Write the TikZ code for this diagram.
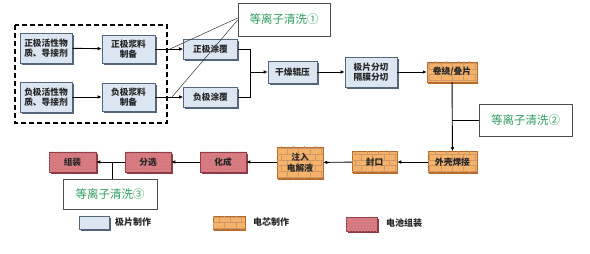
\documentclass[tikz,border=0pt]{standalone}
\usepackage{fontspec}
\newfontfamily\cjk{Noto Sans CJK SC}
\usetikzlibrary{arrows.meta,shadows,patterns,calc}
\definecolor{bluefill}{HTML}{DCE6F2}
\definecolor{blueline}{HTML}{55657A}
\definecolor{orfill}{HTML}{F4B26A}
\definecolor{orline}{HTML}{B86A28}
\definecolor{pkfill}{HTML}{DE7C82}
\definecolor{pkline}{HTML}{8E3A46}
\definecolor{plgreen}{HTML}{2E9E5E}
\tikzset{
  x=1pt,y=-1pt,
  every node/.style={font=\cjk\bfseries\fontsize{8.7}{10.5}\selectfont, inner sep=0pt, align=center, text=black!85},
  bluebox/.style={rectangle, draw=blueline, line width=0.6pt, fill=bluefill,
    drop shadow={shadow xshift=1.6pt, shadow yshift=-1.6pt, fill=blueline, opacity=1}},
  orbox/.style={rectangle, draw=orline, line width=0.5pt, fill=orfill,
    postaction={pattern=bricks, pattern color=orline!70},
    drop shadow={shadow xshift=1.2pt, shadow yshift=-1.6pt, fill=orline, opacity=1}},
  pkbox/.style={rectangle, draw=pkline, line width=0.5pt, fill=pkfill,
    postaction={pattern=crosshatch dots, pattern color=pkline!70},
    drop shadow={shadow xshift=1.6pt, shadow yshift=-1.6pt, fill=pkline, opacity=1}},
  plasma/.style={rectangle, draw=black!70, line width=0.6pt, fill=white,
    font=\cjk\fontsize{11.5}{13}\selectfont, text=plgreen},
  flow/.style={line width=0.9pt, -{Latex[length=4pt,width=3.6pt]}},
  link/.style={line width=0.9pt},
  callout/.style={line width=0.5pt, draw=black!80},
  legtext/.style={font=\cjk\bfseries\fontsize{9}{11}\selectfont, anchor=west}
}
\begin{document}
\begin{tikzpicture}
\useasboundingbox (0,0) rectangle (590,254);
% dashed group
\draw[dashed, line width=1.1pt, dash pattern=on 5pt off 3pt] (15,25) rectangle (167,123);
% upper chain
\node[bluebox, minimum width=52pt, minimum height=30pt] (pa) at (46,48) {正极活性物\\质、导接剂};
\node[bluebox, minimum width=53pt, minimum height=28pt] (pb) at (128.5,49) {正极浆料\\制备};
\node[bluebox, minimum width=52pt, minimum height=30pt] (na) at (46,97) {负极活性物\\质、导接剂};
\node[bluebox, minimum width=53pt, minimum height=28pt] (nb) at (128.5,97) {负极浆料\\制备};
\node[bluebox, minimum width=54pt, minimum height=20pt] (pc) at (210.5,49) {正极涂覆};
\node[bluebox, minimum width=54pt, minimum height=20pt] (nc) at (210.5,97) {负极涂覆};
\node[bluebox, minimum width=49pt, minimum height=22pt] (dry) at (292.5,72) {干燥辊压};
\node[bluebox, minimum width=52pt, minimum height=30pt] (cut) at (371,72) {极片分切\\隔膜分切};
\node[orbox, minimum width=50pt, minimum height=20pt] (wind) at (452,72) {卷绕/叠片};
% lower chain
\node[orbox, minimum width=49pt, minimum height=21pt] (shell) at (452.5,162) {外壳焊接};
\node[orbox, minimum width=45pt, minimum height=21pt] (seal) at (374.5,162) {封口};
\node[orbox, minimum width=46pt, minimum height=31pt] (inj) at (300,162.5) {注入\\电解液};
\node[pkbox, minimum width=46pt, minimum height=20pt] (form) at (223,162) {化成};
\node[pkbox, minimum width=46pt, minimum height=20pt] (sort) at (148,162) {分选};
\node[pkbox, minimum width=47pt, minimum height=20pt] (asm) at (72.5,162) {组装};
% plasma boxes
\node[plasma, minimum width=92pt, minimum height=33pt] (p1) at (284,19.5) {等离子清洗①};
\node[plasma, minimum width=93pt, minimum height=32pt] (p2) at (525.5,120) {等离子清洗②};
\node[plasma, minimum width=94pt, minimum height=30pt] (p3) at (110,194) {等离子清洗③};
% flows
\draw[flow] (pa) -- (pb);
\draw[flow] (na) -- (nb);
\draw[flow] (pb) -- (pc);
\draw[flow] (nb) -- (nc);
\coordinate (j) at (250,72);
\draw[link] (pc.east) -| (j);
\draw[link] (nc.east) -| (j);
\draw[flow] (j) -- (dry);
\draw[flow] (dry) -- (cut);
\draw[flow] (cut) -- (wind);
\draw[flow] (wind) -- (shell);
\draw[flow] (shell) -- (seal);
\draw[flow] (seal) -- (inj);
\draw[flow] ($(inj.west)+(0,-0.5)$) -- (form);
\draw[flow] (form) -- (sort);
\draw[flow] (sort) -- (asm);
% plasma connectors
\coordinate (c1a) at (170,49);
\coordinate (c1b) at (172,97);
\draw[callout] ($(p1.west)+(0,-1.5)$) -- (c1a);
\draw[callout] ($(p1.west)+(0,0.5)$) -- (c1b);
\coordinate (c2) at (452,120);
\draw[link] (c2) -- (p2.west);
\coordinate (c3) at (112,162);
\draw[link] (c3) -- (c3 |- p3.north);
% legend
\node[bluebox, minimum width=30pt, minimum height=13pt] (lb) at (94,222.5) {};
\node[legtext] (lbt) at (115,222.5) {极片制作};
\node[orbox, minimum width=32pt, minimum height=13pt] (lo) at (229,222.5) {};
\node[legtext] (lot) at (253,222.5) {电芯制作};
\node[pkbox, minimum width=31pt, minimum height=14pt] (lp) at (361.5,224) {};
\node[legtext] (lpt) at (386,223) {电池组装};
\end{tikzpicture}
\end{document}
